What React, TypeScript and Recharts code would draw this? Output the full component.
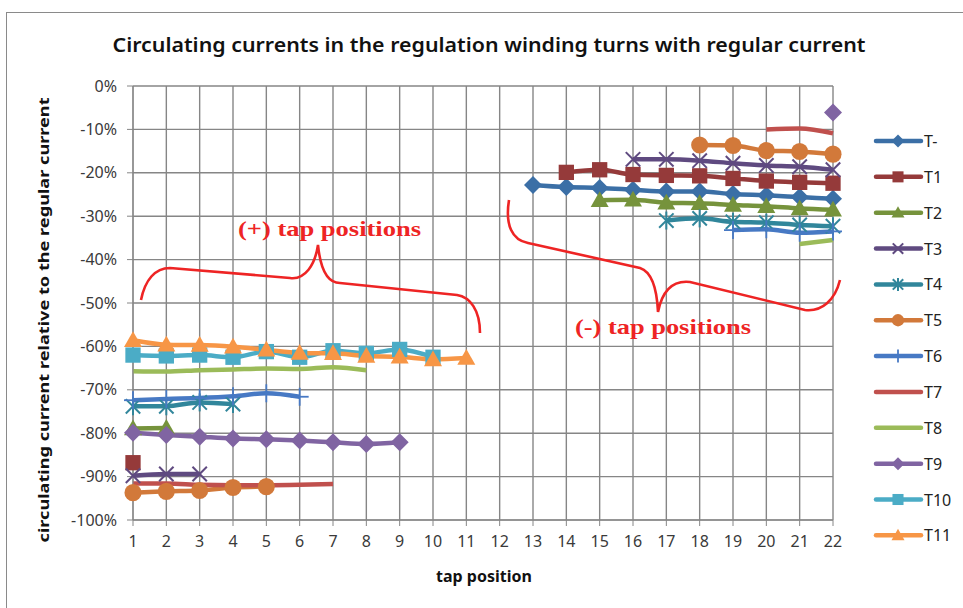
import React from 'react'
import { LineChart, Line, XAxis, YAxis, CartesianGrid } from 'recharts'

const tapPositions = [1, 2, 3, 4, 5, 6, 7, 8, 9, 10, 11, 12, 13, 14, 15, 16, 17, 18, 19, 20, 21, 22]
const percentTicks = [0, -10, -20, -30, -40, -50, -60, -70, -80, -90, -100]

const _ = null
// values in % of the regular current, one entry per tap position 1..22
const tMinus = [_, _, _, _, _, _, _, _, _, _, _, _, -22.8, -23.3, -23.5, -23.9, -24.3, -24.3, -24.9, -25.2, -25.6, -26.0]
const t1 = [-86.8, _, _, _, _, _, _, _, _, _, _, _, _, -19.9, -19.3, -20.4, -20.6, -20.7, -21.3, -21.9, -22.2, -22.4]
const t2 = [-78.9, -78.8, _, _, _, _, _, _, _, _, _, _, _, _, -26.3, -26.2, -26.9, -27.0, -27.4, -27.7, -28.2, -28.5]
const t3 = [-89.8, -89.4, -89.4, _, _, _, _, _, _, _, _, _, _, _, _, -16.9, -16.9, -17.2, -17.8, -18.3, -18.6, -19.3]
const t4 = [-73.8, -73.8, -72.9, -73.3, _, _, _, _, _, _, _, _, _, _, _, _, -31.0, -30.5, -31.3, -31.5, -32.0, -32.3]
const t5 = [-93.7, -93.4, -93.2, -92.5, -92.3, _, _, _, _, _, _, _, _, _, _, _, _, -13.6, -13.7, -14.9, -15.1, -15.7]
const t6 = [-72.4, -72.1, -71.9, -71.5, -70.8, -71.6, _, _, _, _, _, _, _, _, _, _, _, _, -33.2, -33.0, -33.8, -33.5]
const t7 = [-91.6, -91.6, -91.9, -92.0, -92.0, -91.9, -91.7, _, _, _, _, _, _, _, _, _, _, _, _, -10.0, -9.8, -10.9]
const t8 = [-65.7, -65.8, -65.5, -65.3, -65.1, -65.2, -64.8, -65.5, _, _, _, _, _, _, _, _, _, _, _, _, -36.4, -35.5]
const t9 = [-79.9, -80.4, -80.8, -81.2, -81.4, -81.7, -82.1, -82.5, -82.1, _, _, _, _, _, _, _, _, _, _, _, _, -6.1]
const t10 = [-62.0, -62.2, -62.0, -62.5, -61.2, -62.5, -61.0, -61.6, -60.7, -62.5, _, _, _, _, _, _, _, _, _, _, _, _]
const t11 = [-58.6, -59.6, -59.7, -60.1, -60.8, -61.5, -61.6, -62.2, -62.4, -63.0, -62.7, _, _, _, _, _, _, _, _, _, _, _]

const seriesNames = ['T-', 'T1', 'T2', 'T3', 'T4', 'T5', 'T6', 'T7', 'T8', 'T9', 'T10', 'T11']
const seriesValues = [tMinus, t1, t2, t3, t4, t5, t6, t7, t8, t9, t10, t11]
const seriesColors = ['#3b6fa6', '#953a3a', '#76933c', '#5f4a80', '#31869b', '#d2793a', '#4779c4', '#c0504d', '#9bbb59', '#8064a2', '#4bacc6', '#f79646']
const seriesMarkers = ['diamond', 'square', 'triangle', 'cross', 'star', 'circle', 'plus', 'none', 'none', 'diamond', 'square', 'triangle']

const data = tapPositions.map((tap, i) => {
  const row: Record<string, number | null> = { tap }
  seriesNames.forEach((name, s) => {
    row[name] = seriesValues[s][i]
  })
  return row
})

const gridColor = '#868686'
const font = '"Noto Sans", sans-serif'

function Marker({ shape, cx, cy, color, s }: { shape: string; cx: number; cy: number; color: string; s: number }) {
  switch (shape) {
    case 'diamond':
      return <path d={`M${cx},${cy - s} L${cx + s},${cy} L${cx},${cy + s} L${cx - s},${cy} Z`} fill={color} />
    case 'square':
      return <rect x={cx - s * 0.85} y={cy - s * 0.85} width={s * 1.7} height={s * 1.7} fill={color} />
    case 'triangle':
      return <path d={`M${cx},${cy - s} L${cx + s},${cy + s * 0.75} L${cx - s},${cy + s * 0.75} Z`} fill={color} />
    case 'circle':
      return <circle cx={cx} cy={cy} r={s * 0.95} fill={color} />
    case 'cross':
      return (
        <g stroke={color} strokeWidth={2}>
          <line x1={cx - s * 0.8} y1={cy - s * 0.8} x2={cx + s * 0.8} y2={cy + s * 0.8} />
          <line x1={cx - s * 0.8} y1={cy + s * 0.8} x2={cx + s * 0.8} y2={cy - s * 0.8} />
        </g>
      )
    case 'star':
      return (
        <g stroke={color} strokeWidth={2}>
          <line x1={cx - s * 0.8} y1={cy - s * 0.8} x2={cx + s * 0.8} y2={cy + s * 0.8} />
          <line x1={cx - s * 0.8} y1={cy + s * 0.8} x2={cx + s * 0.8} y2={cy - s * 0.8} />
          <line x1={cx} y1={cy - s} x2={cx} y2={cy + s} />
        </g>
      )
    case 'plus':
      return (
        <g stroke={color} strokeWidth={1.8}>
          <line x1={cx} y1={cy - s} x2={cx} y2={cy + s} />
          <line x1={cx - s} y1={cy} x2={cx + s} y2={cy} />
        </g>
      )
    default:
      return null
  }
}

export default function App() {
  return (
    <div style={{ position: 'absolute', left: 0, top: 0, width: 963, height: 608, overflow: 'hidden', background: '#fff' }}>
      <div style={{ position: 'absolute', left: 6, top: 12, width: 1000, height: 700, border: '1.5px solid #8a8a8a' }} />
      <LineChart
        width={963}
        height={608}
        data={data}
        margin={{ top: 86, right: 130, left: 73, bottom: 58 }}
        style={{ position: 'absolute', left: 0, top: 0 }}
      >
        <CartesianGrid stroke={gridColor} strokeWidth={1.4} />
        <XAxis
          dataKey="tap"
          type="number"
          domain={[1, 22]}
          ticks={tapPositions}
          interval={0}
          height={30}
          stroke={gridColor}
          tickSize={6}
          tickMargin={10}
          tick={{ fontSize: 16, fill: '#3a3a3a', fontFamily: font }}
        />
        <YAxis
          type="number"
          domain={[-100, 0]}
          ticks={percentTicks}
          width={60}
          stroke={gridColor}
          tickSize={6}
          tickMargin={10}
          tickFormatter={(v: number) => `${v}%`}
          tick={{ fontSize: 16, fill: '#3a3a3a', fontFamily: font }}
        />
        {seriesNames.map((name, s) => (
          <Line
            key={name}
            dataKey={name}
            type="monotone"
            stroke={seriesColors[s]}
            strokeWidth={4.5}
            connectNulls={false}
            isAnimationActive={false}
            dot={(p: any) =>
              p.cy == null || p.value == null ? (
                <g key={`${name}-${p.index}`} />
              ) : (
                <g key={`${name}-${p.index}`}>
                  <Marker shape={seriesMarkers[s]} cx={p.cx} cy={p.cy} color={seriesColors[s]} s={9} />
                </g>
              )
            }
            activeDot={false}
          />
        ))}
      </LineChart>
      <svg width={963} height={608} style={{ position: 'absolute', left: 0, top: 0, pointerEvents: 'none' }}>
        <text x={489} y={52} textAnchor="middle" fontFamily={font} fontSize={19} fontWeight={600} fill="#111" textLength={753} lengthAdjust="spacingAndGlyphs">
          Circulating currents in the regulation winding turns with regular current
        </text>
        <text
          transform="translate(49,320) rotate(-90)"
          textAnchor="middle"
          fontFamily={font}
          fontSize={15}
          fontWeight={700}
          fill="#111"
          textLength={445}
          lengthAdjust="spacingAndGlyphs"
        >
          circulating current relative to the regular current
        </text>
        <text x={484} y={582} textAnchor="middle" fontFamily={font} fontSize={16} fontWeight={700} fill="#111">
          tap position
        </text>

        <g fill="none" stroke="#ee2424" strokeWidth={2.6}>
          <path d="M141,300 C145,280 155,268 170,268 L290,278 C305,280 315,265 318,245 C320,265 325,283 340,283 L457,295 C470,297 480,310 480,333" />
          <path d="M509,200 C505,225 512,240 528,243 L640,268 C652,272 657,290 658,312 C662,292 672,280 690,282 L805,310 C822,312 835,300 840,280" />
        </g>
        <text x={238} y={236} fontFamily='"Liberation Serif", serif' fontSize={22} fontWeight={700} fill="#ee2424" textLength={183} lengthAdjust="spacingAndGlyphs">
          (+) tap positions
        </text>
        <text x={575} y={334} fontFamily='"Liberation Serif", serif' fontSize={22} fontWeight={700} fill="#ee2424" textLength={176} lengthAdjust="spacingAndGlyphs">
          (-) tap positions
        </text>

        {seriesNames.map((name, s) => {
          const y = 141 + s * 35.85
          return (
            <g key={name}>
              <line x1={876} x2={921} y1={y} y2={y} stroke={seriesColors[s]} strokeWidth={4.5} strokeLinecap="round" />
              <Marker shape={seriesMarkers[s]} cx={898} cy={y} color={seriesColors[s]} s={6.5} />
              <text x={924} y={y} dominantBaseline="central" fontFamily={font} fontSize={16} fill="#222">
                {name}
              </text>
            </g>
          )
        })}
      </svg>
    </div>
  )
}
